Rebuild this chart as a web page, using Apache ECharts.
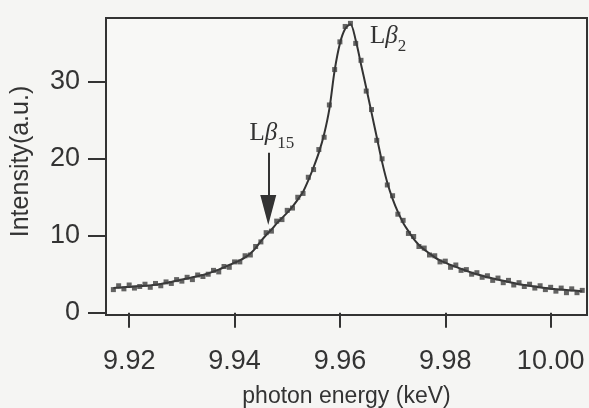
<!DOCTYPE html>
<html>
<head>
<meta charset="utf-8">
<script src="https://cdn.jsdelivr.net/npm/echarts@6/dist/echarts.min.js"></script>
<style>
  html, body { margin: 0; padding: 0; background: #f5f5f3; }
  #chart { width: 589px; height: 408px; }
</style>
</head>
<body>
<div id="chart"></div>
<script>
// photon energy (keV) of each measured point
const energies = [
  9.917, 9.918, 9.919, 9.920, 9.921, 9.922, 9.923, 9.924, 9.925, 9.926,
  9.927, 9.928, 9.929, 9.930, 9.931, 9.932, 9.933, 9.934, 9.935, 9.936,
  9.937, 9.938, 9.939, 9.940, 9.941, 9.942, 9.943, 9.944, 9.945, 9.946,
  9.947, 9.948, 9.949, 9.950, 9.951, 9.952, 9.953, 9.954, 9.955, 9.956,
  9.957, 9.958, 9.959, 9.960, 9.961, 9.962, 9.963, 9.964, 9.965, 9.966,
  9.967, 9.968, 9.969, 9.970, 9.971, 9.972, 9.973, 9.974, 9.975, 9.976,
  9.977, 9.978, 9.979, 9.980, 9.981, 9.982, 9.983, 9.984, 9.985, 9.986,
  9.987, 9.988, 9.989, 9.990, 9.991, 9.992, 9.993, 9.994, 9.995, 9.996,
  9.997, 9.998, 9.999, 10.000, 10.001, 10.002, 10.003, 10.004, 10.005, 10.006
]
// measured intensity (squares)
const measured = [
  3.0, 3.5, 3.1, 3.6, 3.2, 3.4, 3.7, 3.3, 3.8, 3.5,
  4.0, 3.8, 4.3, 4.1, 4.6, 4.3, 4.9, 4.7, 5.0, 5.5,
  5.3, 6.0, 5.9, 6.6, 6.6, 7.4, 7.5, 8.6, 9.2, 10.4,
  10.6, 11.9, 12.1, 13.3, 13.6, 15.0, 15.5, 17.6, 18.6, 21.2,
  22.8, 27.0, 31.6, 35.2, 37.2, 37.6, 35.0, 32.8, 28.8, 26.4,
  22.4, 20.0, 16.6, 15.2, 12.8, 12.0, 10.3, 9.9, 8.6, 8.4,
  7.5, 7.4, 6.6, 6.7, 5.9, 6.2, 5.5, 5.6, 5.0, 5.2,
  4.6, 4.8, 4.2, 4.5, 3.9, 4.2, 3.6, 3.9, 3.4, 3.7,
  3.2, 3.5, 3.0, 3.3, 2.8, 3.2, 2.6, 3.1, 2.6, 2.9
]
// fitted curve
const fitted = [
  3.20, 3.25, 3.30, 3.35, 3.40, 3.45, 3.50, 3.55, 3.62, 3.72,
  3.85, 4.00, 4.15, 4.30, 4.45, 4.60, 4.75, 4.90, 5.10, 5.35,
  5.60, 5.90, 6.20, 6.50, 6.80, 7.20, 7.70, 8.40, 9.30, 10.10,
  10.80, 11.60, 12.30, 13.00, 13.80, 14.70, 15.70, 17.20, 18.90, 20.80,
  23.20, 26.50, 31.50, 35.00, 36.90, 37.50, 35.40, 32.30, 29.20, 26.00,
  22.80, 19.60, 16.90, 14.80, 13.10, 11.70, 10.60, 9.60, 8.80, 8.20,
  7.70, 7.20, 6.80, 6.50, 6.20, 5.95, 5.70, 5.45, 5.20, 5.00,
  4.80, 4.60, 4.45, 4.30, 4.15, 4.00, 3.85, 3.70, 3.60, 3.50,
  3.40, 3.30, 3.20, 3.10, 3.05, 3.00, 2.95, 2.90, 2.85, 2.80
]
const xTicks = [9.92, 9.94, 9.96, 9.98, 10.00]
const yTicks = [0, 10, 20, 30]

const INK = '#333'
const SERIF = '"Liberation Serif", "Times New Roman", serif'
const SANS = '"Liberation Sans", Arial, Helvetica, sans-serif'

const peakRich = {
  n: { fontFamily: SERIF, fontSize: 25, color: INK, lineHeight: 31, verticalAlign: 'top' },
  g: { fontFamily: SERIF, fontSize: 25, fontStyle: 'italic', color: INK, lineHeight: 31, verticalAlign: 'top' },
  s: { fontFamily: SERIF, fontSize: 17, color: INK, lineHeight: 31, verticalAlign: 'bottom' }
}

const chart = echarts.init(document.getElementById('chart'))

chart.setOption({
  backgroundColor: '#f5f5f3',
  animation: false,
  grid: {
    left: 106,
    right: 2,
    top: 18,
    bottom: 93,
    outerBoundsMode: 'none',
    show: true,
    backgroundColor: '#f8f8f6',
    borderColor: INK,
    borderWidth: 2
  },
  xAxis: {
    type: 'value',
    min: 9.9156,
    max: 10.0069,
    offset: 3,
    axisLine: { show: false },
    splitLine: { show: false },
    axisTick: {
      show: true,
      length: 15,
      customValues: xTicks,
      lineStyle: { color: INK, width: 2 }
    },
    axisLabel: {
      customValues: xTicks,
      margin: 30,
      fontSize: 27,
      fontFamily: SANS,
      color: INK,
      formatter: v => v.toFixed(2)
    },
    name: 'photon energy (keV)',
    nameLocation: 'middle',
    nameGap: 67,
    nameTextStyle: { fontSize: 23, fontFamily: SANS, color: INK }
  },
  yAxis: {
    type: 'value',
    min: -0.3,
    max: 38.3,
    axisLine: { show: false },
    splitLine: { show: false },
    axisTick: {
      show: true,
      length: 18,
      customValues: yTicks,
      lineStyle: { color: INK, width: 2 }
    },
    axisLabel: {
      customValues: yTicks,
      margin: 26,
      fontSize: 27,
      fontFamily: SANS,
      color: INK
    },
    name: 'Intensity(a.u.)',
    nameLocation: 'middle',
    nameGap: 72,
    nameTextStyle: { fontSize: 25, fontFamily: SANS, color: INK, padding: [0, 0, 0, 10] }
  },
  series: [
    {
      name: 'fit',
      type: 'line',
      data: energies.map((e, i) => [e, fitted[i]]),
      smooth: 0.3,
      showSymbol: false,
      lineStyle: { color: '#333', width: 2 },
      z: 3,
      markPoint: {
        symbol: 'rect',
        symbolSize: 0,
        silent: true,
        data: [
          {
            coord: [9.9657, 35.5],
            label: {
              show: true,
              position: 'right',
              distance: 0,
              formatter: '{n|L}{g|β}{s|2}',
              rich: peakRich
            }
          },
          {
            coord: [9.9471, 22.9],
            label: {
              show: true,
              position: 'inside',
              formatter: '{n|L}{g|β}{s|15}',
              rich: peakRich
            }
          }
        ]
      },
      markLine: {
        silent: true,
        symbol: ['none', 'triangle'],
        symbolSize: [0, 0],
        label: { show: false },
        lineStyle: { color: INK, width: 2, type: 'solid' },
        data: [
          [
            { coord: [9.9464, 20.8], symbol: 'none' },
            { coord: [9.9464, 13.35], symbol: 'triangle', symbolSize: [16, 30] }
          ]
        ]
      }
    },
    {
      name: 'measured',
      type: 'scatter',
      data: energies.map((e, i) => [e, measured[i]]),
      symbol: 'rect',
      symbolSize: 5,
      itemStyle: { color: '#3d3d3d' },
      z: 4
    }
  ]
})
</script>
</body>
</html>
